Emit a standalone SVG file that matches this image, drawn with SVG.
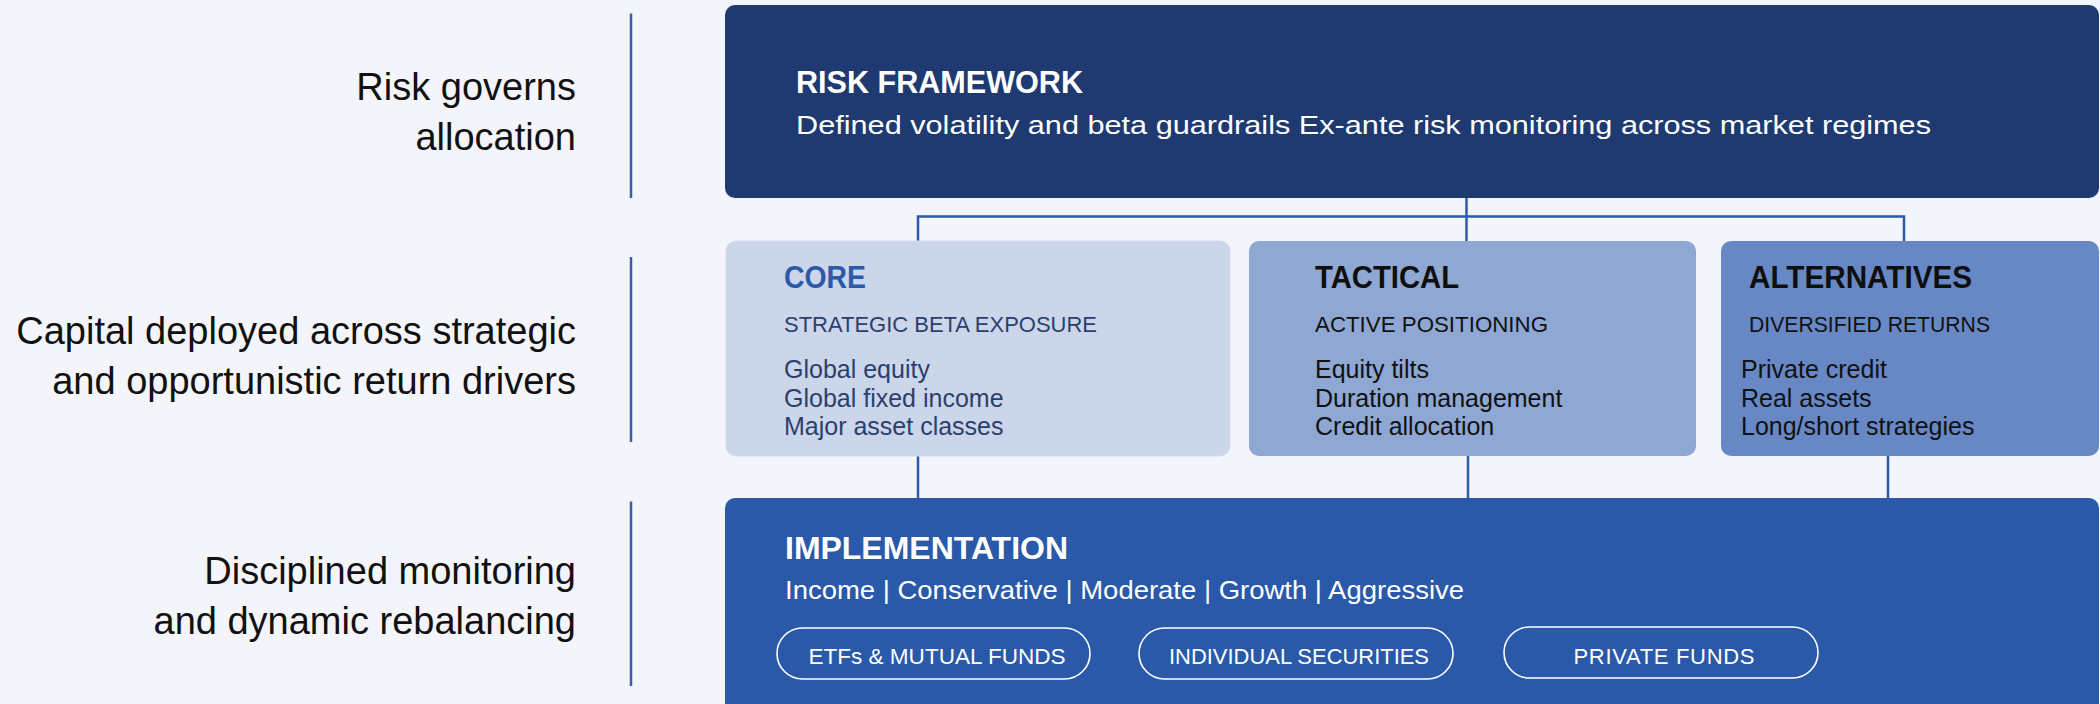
<svg xmlns="http://www.w3.org/2000/svg" width="2100" height="704" viewBox="0 0 2100 704">
<style>
.bg{fill:#F4F5FA}
.sep{stroke:#3A5FA8;stroke-width:2.5;fill:none}
.conn{stroke:#2D5BAA;stroke-width:2.5;fill:none}
.lbl{font-family:"Liberation Sans",Arial,sans-serif;font-size:38px;fill:#111111;text-anchor:end}
.title{font-family:"Liberation Sans",Arial,sans-serif;font-weight:bold;font-size:31px}
.sub{font-family:"Liberation Sans",Arial,sans-serif;font-size:22px}
.item{font-family:"Liberation Sans",Arial,sans-serif;font-size:25px}
.desc{font-family:"Liberation Sans",Arial,sans-serif;font-size:26px;fill:#FFFFFF}
.pill{fill:none;stroke:#FFFFFF;stroke-width:1.6}
.pilltxt{font-family:"Liberation Sans",Arial,sans-serif;font-size:22px;fill:#FFFFFF;text-anchor:middle}
</style>
<rect class="bg" x="0" y="0" width="2100" height="704"/>

<g id="row-labels">
  <line class="sep" x1="631" y1="13.5" x2="631" y2="198"/>
  <line class="sep" x1="631" y1="257" x2="631" y2="442"/>
  <line class="sep" x1="631" y1="501.5" x2="631" y2="686"/>
  <text class="lbl" x="576" y="100">Risk governs</text>
  <text class="lbl" x="576" y="150">allocation</text>
  <text class="lbl" x="576" y="344">Capital deployed across strategic</text>
  <text class="lbl" x="576" y="394">and opportunistic return drivers</text>
  <text class="lbl" x="576" y="584">Disciplined monitoring</text>
  <text class="lbl" x="576" y="634">and dynamic rebalancing</text>
</g>

<g id="connectors">
  <line class="conn" x1="1466.5" y1="198" x2="1466.5" y2="241"/>
  <polyline class="conn" points="918,241 918,216.5 1904,216.5 1904,241"/>
  <line class="conn" x1="918" y1="456" x2="918" y2="498"/>
  <line class="conn" x1="1468" y1="456" x2="1468" y2="498"/>
  <line class="conn" x1="1888" y1="456" x2="1888" y2="498"/>
</g>

<g id="risk-framework">
  <rect x="725" y="5" width="1374" height="193" rx="10" fill="#1E3A70"/>
  <text class="title" x="796" y="93" fill="#FFFFFF" textLength="287" lengthAdjust="spacingAndGlyphs">RISK FRAMEWORK</text>
  <text class="desc" x="796" y="134" textLength="1135" lengthAdjust="spacingAndGlyphs">Defined volatility and beta guardrails Ex-ante risk monitoring across market regimes</text>
</g>

<g id="core">
  <rect x="726" y="241" width="504" height="215" rx="10" fill="#CBD6EA" stroke="#D3DCEE" stroke-width="1"/>
  <text class="title" x="784" y="288" fill="#2B5AA8" textLength="82" lengthAdjust="spacingAndGlyphs">CORE</text>
  <text class="sub" x="784" y="332" fill="#2C3F6C" textLength="313" lengthAdjust="spacingAndGlyphs">STRATEGIC BETA EXPOSURE</text>
  <text class="item" x="784" y="378" fill="#2C3F6C">Global equity</text>
  <text class="item" x="784" y="407" fill="#2C3F6C">Global fixed income</text>
  <text class="item" x="784" y="435" fill="#2C3F6C">Major asset classes</text>
</g>

<g id="tactical">
  <rect x="1249" y="241" width="447" height="215" rx="10" fill="#8EA7D3"/>
  <text class="title" x="1315" y="288" fill="#0F0F0F" textLength="144" lengthAdjust="spacingAndGlyphs">TACTICAL</text>
  <text class="sub" x="1315" y="332" fill="#111111" textLength="233" lengthAdjust="spacingAndGlyphs">ACTIVE POSITIONING</text>
  <text class="item" x="1315" y="378" fill="#111111">Equity tilts</text>
  <text class="item" x="1315" y="407" fill="#111111">Duration management</text>
  <text class="item" x="1315" y="435" fill="#111111">Credit allocation</text>
</g>

<g id="alternatives">
  <rect x="1721" y="241" width="378" height="215" rx="10" fill="#6788C4"/>
  <text class="title" x="1749" y="288" fill="#0F0F0F" textLength="223" lengthAdjust="spacingAndGlyphs">ALTERNATIVES</text>
  <text class="sub" x="1749" y="332" fill="#111111" textLength="241" lengthAdjust="spacingAndGlyphs">DIVERSIFIED RETURNS</text>
  <text class="item" x="1741" y="378" fill="#111111">Private credit</text>
  <text class="item" x="1741" y="407" fill="#111111">Real assets</text>
  <text class="item" x="1741" y="435" fill="#111111">Long/short strategies</text>
</g>

<g id="implementation">
  <rect x="725" y="498" width="1374" height="230" rx="10" fill="#2959A8"/>
  <text class="title" x="785" y="559" fill="#FFFFFF" textLength="283" lengthAdjust="spacingAndGlyphs">IMPLEMENTATION</text>
  <text class="desc" x="785" y="599" textLength="679" lengthAdjust="spacingAndGlyphs">Income | Conservative | Moderate | Growth | Aggressive</text>
  <g id="pill-etfs">
    <rect class="pill" x="777" y="628" width="313" height="51" rx="25.5"/>
    <text class="pilltxt" x="937" y="664" textLength="257" lengthAdjust="spacingAndGlyphs">ETFs &amp; MUTUAL FUNDS</text>
  </g>
  <g id="pill-securities">
    <rect class="pill" x="1139" y="628" width="314" height="51" rx="25.5"/>
    <text class="pilltxt" x="1299" y="664" textLength="260" lengthAdjust="spacingAndGlyphs">INDIVIDUAL SECURITIES</text>
  </g>
  <g id="pill-private">
    <rect class="pill" x="1504" y="627" width="314" height="51" rx="25.5"/>
    <text class="pilltxt" x="1664" y="664" textLength="181" lengthAdjust="spacing">PRIVATE FUNDS</text>
  </g>
</g>
</svg>
